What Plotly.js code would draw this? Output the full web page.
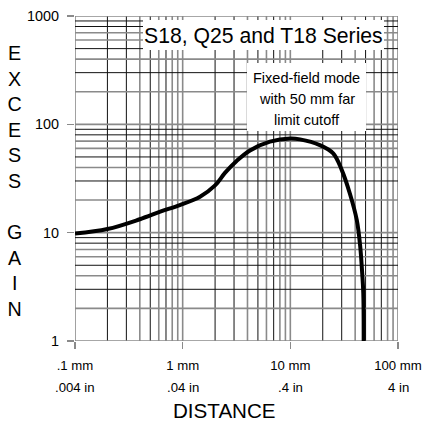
<!DOCTYPE html>
<html>
<head>
<meta charset="utf-8">
<script src="https://cdn.plot.ly/plotly-3.0.1.min.js"></script>
<style>html,body{margin:0;padding:0;background:#fff;}#chart{width:424px;height:427px;}</style>
</head>
<body>
<div id="chart"></div>
<script>
// Data
var distanceMm = [0.1, 0.2, 0.4, 0.62, 0.94, 1.45, 2.0, 2.47, 3.17, 4.22, 6.47, 10, 12.3, 18.8, 25, 30, 35.7, 41.4, 44.6, 46.3, 47.6, 48];
var excessGain = [9.8, 10.8, 13.3, 15.6, 18.0, 21.5, 27.3, 35.6, 45.9, 57.4, 69.2, 74, 72.6, 64.3, 54, 38, 23, 13.1, 7.4, 4.5, 2.76, 1.0];
var xTickVals = [0.1, 1, 10, 100];
var xTickMm = [".1 mm", "1 mm", "10 mm", "100 mm"];
var xTickIn = [".004 in", ".04 in", ".4 in", "4 in"];
var yTickVals = [1, 10, 100, 1000];
var yTickText = ["1", "10", "100", "1000"];
var chartTitle = "S18, Q25 and T18 Series";
var noteLines = ["Fixed-field mode", "with 50 mm far", "limit cutoff"];
var yTitle = "EXCESS GAIN";
var xTitle = "DISTANCE";

var FONT = "'Liberation Sans', Arial, sans-serif";
var GRAY = "#8a8a8a", BLACK = "#111";

// grid line colour pattern per digit (1..9) within a decade
var xPattern = {1: GRAY, 2: BLACK, 3: BLACK, 4: GRAY, 5: BLACK, 6: GRAY, 7: BLACK, 8: GRAY, 9: GRAY};
var yPattern = {1: GRAY, 2: GRAY, 3: BLACK, 4: GRAY, 5: BLACK, 6: GRAY, 7: GRAY, 8: BLACK, 9: BLACK};

var shapes = [];
function addGrid(axis, decades, pattern) {
  decades.forEach(function (d, i) {
    for (var k = 1; k <= 9; k++) {
      var v = d * k;
      var c = pattern[k];
      var w = c === GRAY ? 1.6 : 1;
      if (axis === 'x') shapes.push({type: 'line', xref: 'x', yref: 'paper', x0: v, x1: v, y0: 0, y1: 1, line: {color: c, width: w}, layer: 'below'});
      else shapes.push({type: 'line', xref: 'paper', yref: 'y', y0: v, y1: v, x0: 0, x1: 1, line: {color: c, width: w}, layer: 'below'});
      if (i === decades.length - 1) break;
    }
  });
}
addGrid('x', xTickVals, xPattern);
addGrid('y', yTickVals, yPattern);

// pixel helpers -> paper coords (plot area 75..398 x 16..341)
function px(x) { return (x - 75) / 323; }
function py(y) { return (341 - y) / 325; }

// white boxes behind texts
shapes.push({type: 'rect', xref: 'paper', yref: 'paper', x0: px(143), x1: px(384), y0: py(50), y1: py(20), fillcolor: '#fff', line: {width: 0}, layer: 'below'});
shapes.push({type: 'rect', xref: 'paper', yref: 'paper', x0: px(247), x1: px(366), y0: py(131), y1: py(63), fillcolor: '#fff', line: {width: 0}, layer: 'below'});

var annotations = [
  {xref: 'paper', yref: 'paper', x: px(263.5), y: py(36), text: chartTitle, showarrow: false, xanchor: 'center', yanchor: 'middle', font: {family: FONT, size: 21.2, color: '#000'}},
  {xref: 'paper', yref: 'paper', x: px(224), y: py(410), text: xTitle, showarrow: false, xanchor: 'center', yanchor: 'middle', font: {family: FONT, size: 20.6, color: '#000'}},
  {xref: 'paper', yref: 'paper', x: px(14), y: py(181), text: yTitle.split('').map(function (c) { return c === ' ' ? '' : c; }).join('<br>'), showarrow: false, xanchor: 'center', yanchor: 'middle', font: {family: FONT, size: 19.7, color: '#000'}}
];
var noteY = [78, 99, 120];
noteLines.forEach(function (t, i) {
  annotations.push({xref: 'paper', yref: 'paper', x: px(306.5), y: py(noteY[i]), text: t, showarrow: false, xanchor: 'center', yanchor: 'middle', font: {family: FONT, size: 14.5, color: '#000'}});
});
// inch line of the x tick labels
xTickVals.forEach(function (v, i) {
  annotations.push({xref: 'x', yref: 'paper', x: Math.log10(v), y: py(387), text: xTickIn[i], showarrow: false, xanchor: 'center', yanchor: 'middle', font: {family: FONT, size: 13.2, color: '#000'}});
});

var trace = {
  x: distanceMm, y: excessGain, type: 'scatter', mode: 'lines',
  line: {color: '#000', width: 4, shape: 'spline', smoothing: 1},
  hoverinfo: 'skip'
};

var layout = {
  width: 424, height: 427,
  margin: {l: 75, r: 26, t: 16, b: 86},
  paper_bgcolor: '#fff', plot_bgcolor: '#fff',
  showlegend: false,
  xaxis: {
    type: 'log', range: [-1, 2], showgrid: false, zeroline: false, showline: false,
    tickvals: xTickVals, ticktext: xTickMm, ticks: 'outside', ticklen: 7, tickwidth: 1.5, tickcolor: GRAY,
    ticklabelstandoff: 5,
    tickfont: {family: FONT, size: 13.2, color: '#000'}
  },
  yaxis: {
    type: 'log', range: [0, 3], showgrid: false, zeroline: false, showline: false,
    tickvals: yTickVals, ticktext: yTickText, ticks: 'outside', ticklen: 7, tickwidth: 1.5, tickcolor: GRAY,
    ticklabelstandoff: 5,
    tickfont: {family: FONT, size: 14.4, color: '#000'}
  },
  shapes: shapes,
  annotations: annotations
};

Plotly.newPlot('chart', [trace], layout, {staticPlot: true, displayModeBar: false});
</script>
</body>
</html>
